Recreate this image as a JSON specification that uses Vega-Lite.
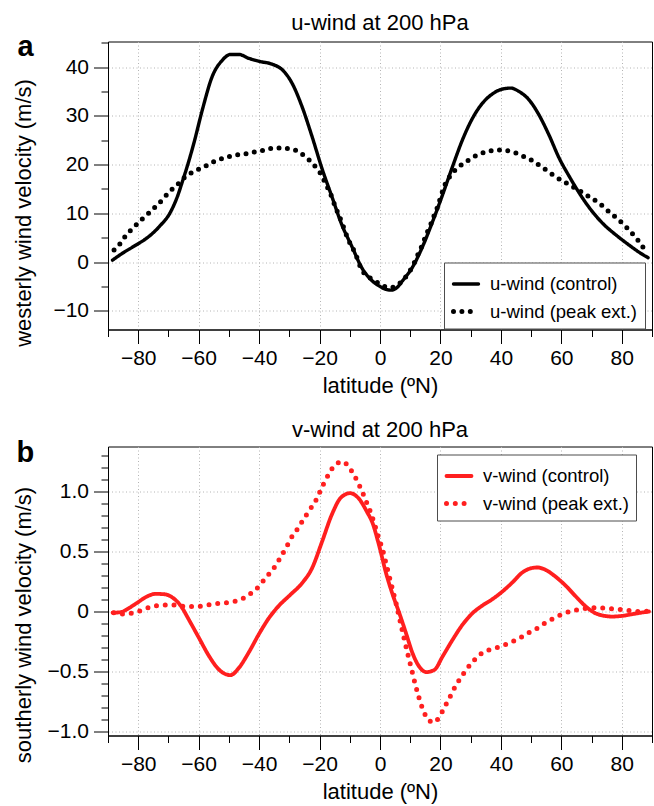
{
  "$schema": "https://vega.github.io/schema/vega-lite/v6.json",
  "padding": {"left": 11, "top": 11.5, "right": 0, "bottom": 0},
  "spacing": 20,
  "resolve": {
    "scale": {"strokeDash": "independent", "strokeWidth": "independent", "x": "independent", "y": "independent"},
    "legend": {"strokeDash": "independent", "strokeWidth": "independent"}
  },
  "config": {
    "font": "Liberation Sans",
    "view": {"stroke": "black", "strokeWidth": 1},
    "axis": {
      "domainColor": "black",
      "tickColor": "black",
      "tickWidth": 1,
      "labelColor": "black",
      "titleColor": "black",
      "labelFont": "Liberation Sans",
      "titleFont": "Liberation Sans",
      "labelFontSize": 21,
      "titleFontSize": 22,
      "titleFontWeight": "normal",
      "gridColor": "#b4b4b4",
      "gridDash": [1, 2.5],
      "gridWidth": 1,
      "labelFlush": false,
      "labelOverlap": false
    },
    "axisX": {"labelPadding": 4, "titlePadding": 7},
    "axisY": {"labelPadding": 5, "titlePadding": 11, "minExtent": 62, "maxExtent": 62},
    "legend": {
      "orient": "none",
      "title": null,
      "strokeColor": "#4d4d4d",
      "fillColor": "white",
      "padding": 7,
      "labelFont": "Liberation Sans",
      "labelFontSize": 18.5,
      "labelColor": "black",
      "symbolType": "stroke",
      "symbolSize": 625,
      "labelOffset": 9,
      "rowPadding": 3
    },
    "title": {"font": "Liberation Sans", "color": "black"}
  },
  "datasets": {
    "u": [
      {"latitude": -88.5, "value": 0.4, "series": "u-wind (control)"},
      {"latitude": -85, "value": 1.9, "series": "u-wind (control)"},
      {"latitude": -81, "value": 3.4, "series": "u-wind (control)"},
      {"latitude": -77, "value": 5.0, "series": "u-wind (control)"},
      {"latitude": -73, "value": 7.3, "series": "u-wind (control)"},
      {"latitude": -69.2, "value": 10.4, "series": "u-wind (control)"},
      {"latitude": -67, "value": 13.5, "series": "u-wind (control)"},
      {"latitude": -65.4, "value": 16.5, "series": "u-wind (control)"},
      {"latitude": -63.7, "value": 19.8, "series": "u-wind (control)"},
      {"latitude": -61.5, "value": 24.6, "series": "u-wind (control)"},
      {"latitude": -58.8, "value": 31.2, "series": "u-wind (control)"},
      {"latitude": -55.5, "value": 38.1, "series": "u-wind (control)"},
      {"latitude": -52.2, "value": 41.4, "series": "u-wind (control)"},
      {"latitude": -49.5, "value": 42.6, "series": "u-wind (control)"},
      {"latitude": -46.7, "value": 42.6, "series": "u-wind (control)"},
      {"latitude": -43.4, "value": 41.8, "series": "u-wind (control)"},
      {"latitude": -40.1, "value": 41.2, "series": "u-wind (control)"},
      {"latitude": -35.7, "value": 40.6, "series": "u-wind (control)"},
      {"latitude": -32.4, "value": 39.5, "series": "u-wind (control)"},
      {"latitude": -29.1, "value": 36.7, "series": "u-wind (control)"},
      {"latitude": -25.8, "value": 31.9, "series": "u-wind (control)"},
      {"latitude": -22.5, "value": 25.8, "series": "u-wind (control)"},
      {"latitude": -19.2, "value": 19.2, "series": "u-wind (control)"},
      {"latitude": -15.9, "value": 13.4, "series": "u-wind (control)"},
      {"latitude": -12.6, "value": 7.6, "series": "u-wind (control)"},
      {"latitude": -9.3, "value": 3.2, "series": "u-wind (control)"},
      {"latitude": -6, "value": -1.2, "series": "u-wind (control)"},
      {"latitude": -3, "value": -3.6, "series": "u-wind (control)"},
      {"latitude": 0, "value": -5.0, "series": "u-wind (control)"},
      {"latitude": 2, "value": -5.6, "series": "u-wind (control)"},
      {"latitude": 3.6, "value": -5.75, "series": "u-wind (control)"},
      {"latitude": 5.5, "value": -5.3, "series": "u-wind (control)"},
      {"latitude": 7.5, "value": -3.8, "series": "u-wind (control)"},
      {"latitude": 10.8, "value": -1.0, "series": "u-wind (control)"},
      {"latitude": 14.1, "value": 3.2, "series": "u-wind (control)"},
      {"latitude": 17.4, "value": 8.3, "series": "u-wind (control)"},
      {"latitude": 20.7, "value": 13.8, "series": "u-wind (control)"},
      {"latitude": 24.0, "value": 19.6, "series": "u-wind (control)"},
      {"latitude": 27.3, "value": 25.1, "series": "u-wind (control)"},
      {"latitude": 30.6, "value": 29.5, "series": "u-wind (control)"},
      {"latitude": 33.9, "value": 32.6, "series": "u-wind (control)"},
      {"latitude": 37.2, "value": 34.5, "series": "u-wind (control)"},
      {"latitude": 40.5, "value": 35.5, "series": "u-wind (control)"},
      {"latitude": 43.3, "value": 35.7, "series": "u-wind (control)"},
      {"latitude": 46.0, "value": 35.0, "series": "u-wind (control)"},
      {"latitude": 49.3, "value": 33.3, "series": "u-wind (control)"},
      {"latitude": 52.6, "value": 30.2, "series": "u-wind (control)"},
      {"latitude": 55.9, "value": 26.1, "series": "u-wind (control)"},
      {"latitude": 59.3, "value": 21.3, "series": "u-wind (control)"},
      {"latitude": 62.6, "value": 17.6, "series": "u-wind (control)"},
      {"latitude": 65.9, "value": 14.2, "series": "u-wind (control)"},
      {"latitude": 69.2, "value": 11.2, "series": "u-wind (control)"},
      {"latitude": 73.6, "value": 8.0, "series": "u-wind (control)"},
      {"latitude": 78, "value": 5.6, "series": "u-wind (control)"},
      {"latitude": 82.4, "value": 3.5, "series": "u-wind (control)"},
      {"latitude": 86, "value": 1.9, "series": "u-wind (control)"},
      {"latitude": 88.7, "value": 0.9, "series": "u-wind (control)"},
      {"latitude": -88, "value": 2.5, "series": "u-wind (peak ext.)"},
      {"latitude": -86, "value": 3.8, "series": "u-wind (peak ext.)"},
      {"latitude": -84.4, "value": 5.2, "series": "u-wind (peak ext.)"},
      {"latitude": -82.4, "value": 6.6, "series": "u-wind (peak ext.)"},
      {"latitude": -80.4, "value": 7.8, "series": "u-wind (peak ext.)"},
      {"latitude": -78.4, "value": 9.0, "series": "u-wind (peak ext.)"},
      {"latitude": -76.4, "value": 10.1, "series": "u-wind (peak ext.)"},
      {"latitude": -74.2, "value": 11.4, "series": "u-wind (peak ext.)"},
      {"latitude": -72.3, "value": 12.6, "series": "u-wind (peak ext.)"},
      {"latitude": -70.3, "value": 14.0, "series": "u-wind (peak ext.)"},
      {"latitude": -68.5, "value": 15.1, "series": "u-wind (peak ext.)"},
      {"latitude": -66.3, "value": 16.3, "series": "u-wind (peak ext.)"},
      {"latitude": -64.5, "value": 17.5, "series": "u-wind (peak ext.)"},
      {"latitude": -62.1, "value": 18.4, "series": "u-wind (peak ext.)"},
      {"latitude": -59.6, "value": 19.2, "series": "u-wind (peak ext.)"},
      {"latitude": -57, "value": 19.9, "series": "u-wind (peak ext.)"},
      {"latitude": -54.4, "value": 20.8, "series": "u-wind (peak ext.)"},
      {"latitude": -51.8, "value": 21.3, "series": "u-wind (peak ext.)"},
      {"latitude": -49.1, "value": 21.8, "series": "u-wind (peak ext.)"},
      {"latitude": -46.4, "value": 22.1, "series": "u-wind (peak ext.)"},
      {"latitude": -43.6, "value": 22.3, "series": "u-wind (peak ext.)"},
      {"latitude": -40.8, "value": 22.7, "series": "u-wind (peak ext.)"},
      {"latitude": -37.9, "value": 23.0, "series": "u-wind (peak ext.)"},
      {"latitude": -35.3, "value": 23.4, "series": "u-wind (peak ext.)"},
      {"latitude": -32.4, "value": 23.4, "series": "u-wind (peak ext.)"},
      {"latitude": -29.7, "value": 23.2, "series": "u-wind (peak ext.)"},
      {"latitude": -27.1, "value": 22.7, "series": "u-wind (peak ext.)"},
      {"latitude": -24.7, "value": 21.6, "series": "u-wind (peak ext.)"},
      {"latitude": -22.7, "value": 20.5, "series": "u-wind (peak ext.)"},
      {"latitude": -20.9, "value": 19.2, "series": "u-wind (peak ext.)"},
      {"latitude": -19.2, "value": 17.7, "series": "u-wind (peak ext.)"},
      {"latitude": -18.1, "value": 16.2, "series": "u-wind (peak ext.)"},
      {"latitude": -16.5, "value": 14.2, "series": "u-wind (peak ext.)"},
      {"latitude": -14.8, "value": 11.4, "series": "u-wind (peak ext.)"},
      {"latitude": -12.6, "value": 8.1, "series": "u-wind (peak ext.)"},
      {"latitude": -10.7, "value": 4.9, "series": "u-wind (peak ext.)"},
      {"latitude": -8.2, "value": 1.8, "series": "u-wind (peak ext.)"},
      {"latitude": -6, "value": -1.6, "series": "u-wind (peak ext.)"},
      {"latitude": -2.4, "value": -3.6, "series": "u-wind (peak ext.)"},
      {"latitude": -0.2, "value": -4.4, "series": "u-wind (peak ext.)"},
      {"latitude": 2, "value": -5.1, "series": "u-wind (peak ext.)"},
      {"latitude": 4, "value": -5.2, "series": "u-wind (peak ext.)"},
      {"latitude": 5.8, "value": -4.7, "series": "u-wind (peak ext.)"},
      {"latitude": 8, "value": -3.4, "series": "u-wind (peak ext.)"},
      {"latitude": 9.7, "value": -2.0, "series": "u-wind (peak ext.)"},
      {"latitude": 11, "value": -0.6, "series": "u-wind (peak ext.)"},
      {"latitude": 12.2, "value": 1.1, "series": "u-wind (peak ext.)"},
      {"latitude": 13.5, "value": 2.8, "series": "u-wind (peak ext.)"},
      {"latitude": 14.6, "value": 4.5, "series": "u-wind (peak ext.)"},
      {"latitude": 15.7, "value": 6.2, "series": "u-wind (peak ext.)"},
      {"latitude": 16.9, "value": 7.9, "series": "u-wind (peak ext.)"},
      {"latitude": 18, "value": 9.7, "series": "u-wind (peak ext.)"},
      {"latitude": 19.1, "value": 11.4, "series": "u-wind (peak ext.)"},
      {"latitude": 20.2, "value": 13.6, "series": "u-wind (peak ext.)"},
      {"latitude": 21.3, "value": 15.6, "series": "u-wind (peak ext.)"},
      {"latitude": 23.5, "value": 17.9, "series": "u-wind (peak ext.)"},
      {"latitude": 26.2, "value": 19.6, "series": "u-wind (peak ext.)"},
      {"latitude": 29, "value": 20.8, "series": "u-wind (peak ext.)"},
      {"latitude": 31.7, "value": 21.8, "series": "u-wind (peak ext.)"},
      {"latitude": 34.5, "value": 22.5, "series": "u-wind (peak ext.)"},
      {"latitude": 37.2, "value": 22.9, "series": "u-wind (peak ext.)"},
      {"latitude": 39.2, "value": 23.0, "series": "u-wind (peak ext.)"},
      {"latitude": 41.6, "value": 22.9, "series": "u-wind (peak ext.)"},
      {"latitude": 44.4, "value": 22.5, "series": "u-wind (peak ext.)"},
      {"latitude": 47.1, "value": 21.8, "series": "u-wind (peak ext.)"},
      {"latitude": 49.9, "value": 21.0, "series": "u-wind (peak ext.)"},
      {"latitude": 52.6, "value": 19.9, "series": "u-wind (peak ext.)"},
      {"latitude": 55.4, "value": 18.7, "series": "u-wind (peak ext.)"},
      {"latitude": 58.1, "value": 17.5, "series": "u-wind (peak ext.)"},
      {"latitude": 60.9, "value": 16.5, "series": "u-wind (peak ext.)"},
      {"latitude": 63.7, "value": 15.5, "series": "u-wind (peak ext.)"},
      {"latitude": 66.4, "value": 14.5, "series": "u-wind (peak ext.)"},
      {"latitude": 69.2, "value": 13.4, "series": "u-wind (peak ext.)"},
      {"latitude": 72.5, "value": 12.1, "series": "u-wind (peak ext.)"},
      {"latitude": 75.8, "value": 10.3, "series": "u-wind (peak ext.)"},
      {"latitude": 79.1, "value": 8.6, "series": "u-wind (peak ext.)"},
      {"latitude": 82.4, "value": 6.6, "series": "u-wind (peak ext.)"},
      {"latitude": 85.7, "value": 4.2, "series": "u-wind (peak ext.)"},
      {"latitude": 88.4, "value": 1.8, "series": "u-wind (peak ext.)"}
    ],
    "v": [
      {"latitude": -88.5, "value": -0.01, "series": "v-wind (control)"},
      {"latitude": -85.7, "value": -0.005, "series": "v-wind (control)"},
      {"latitude": -83, "value": 0.03, "series": "v-wind (control)"},
      {"latitude": -80.2, "value": 0.075, "series": "v-wind (control)"},
      {"latitude": -77.5, "value": 0.12, "series": "v-wind (control)"},
      {"latitude": -74.2, "value": 0.147, "series": "v-wind (control)"},
      {"latitude": -71.4, "value": 0.144, "series": "v-wind (control)"},
      {"latitude": -68.7, "value": 0.117, "series": "v-wind (control)"},
      {"latitude": -65.9, "value": 0.047, "series": "v-wind (control)"},
      {"latitude": -63.2, "value": -0.07, "series": "v-wind (control)"},
      {"latitude": -59.9, "value": -0.22, "series": "v-wind (control)"},
      {"latitude": -56.6, "value": -0.37, "series": "v-wind (control)"},
      {"latitude": -53.8, "value": -0.47, "series": "v-wind (control)"},
      {"latitude": -52, "value": -0.51, "series": "v-wind (control)"},
      {"latitude": -49.5, "value": -0.53, "series": "v-wind (control)"},
      {"latitude": -46.7, "value": -0.47, "series": "v-wind (control)"},
      {"latitude": -43.4, "value": -0.34, "series": "v-wind (control)"},
      {"latitude": -40.1, "value": -0.19, "series": "v-wind (control)"},
      {"latitude": -36.8, "value": -0.056, "series": "v-wind (control)"},
      {"latitude": -33.5, "value": 0.047, "series": "v-wind (control)"},
      {"latitude": -29.7, "value": 0.139, "series": "v-wind (control)"},
      {"latitude": -25.8, "value": 0.236, "series": "v-wind (control)"},
      {"latitude": -22.5, "value": 0.36, "series": "v-wind (control)"},
      {"latitude": -19.2, "value": 0.58, "series": "v-wind (control)"},
      {"latitude": -15.9, "value": 0.81, "series": "v-wind (control)"},
      {"latitude": -12.9, "value": 0.95, "series": "v-wind (control)"},
      {"latitude": -9.9, "value": 0.986, "series": "v-wind (control)"},
      {"latitude": -7.1, "value": 0.944, "series": "v-wind (control)"},
      {"latitude": -4.3, "value": 0.83, "series": "v-wind (control)"},
      {"latitude": -2.5, "value": 0.74, "series": "v-wind (control)"},
      {"latitude": -0.4, "value": 0.56, "series": "v-wind (control)"},
      {"latitude": 2.0, "value": 0.32, "series": "v-wind (control)"},
      {"latitude": 4.2, "value": 0.14, "series": "v-wind (control)"},
      {"latitude": 6.4, "value": -0.014, "series": "v-wind (control)"},
      {"latitude": 8.6, "value": -0.18, "series": "v-wind (control)"},
      {"latitude": 10.8, "value": -0.35, "series": "v-wind (control)"},
      {"latitude": 13, "value": -0.46, "series": "v-wind (control)"},
      {"latitude": 15.4, "value": -0.505, "series": "v-wind (control)"},
      {"latitude": 18, "value": -0.486, "series": "v-wind (control)"},
      {"latitude": 20.7, "value": -0.375, "series": "v-wind (control)"},
      {"latitude": 24, "value": -0.236, "series": "v-wind (control)"},
      {"latitude": 27.3, "value": -0.11, "series": "v-wind (control)"},
      {"latitude": 30.6, "value": -0.014, "series": "v-wind (control)"},
      {"latitude": 33.9, "value": 0.05, "series": "v-wind (control)"},
      {"latitude": 37.2, "value": 0.103, "series": "v-wind (control)"},
      {"latitude": 40.5, "value": 0.167, "series": "v-wind (control)"},
      {"latitude": 43.8, "value": 0.242, "series": "v-wind (control)"},
      {"latitude": 47.1, "value": 0.325, "series": "v-wind (control)"},
      {"latitude": 49.9, "value": 0.36, "series": "v-wind (control)"},
      {"latitude": 52.1, "value": 0.367, "series": "v-wind (control)"},
      {"latitude": 54.8, "value": 0.347, "series": "v-wind (control)"},
      {"latitude": 58.1, "value": 0.29, "series": "v-wind (control)"},
      {"latitude": 61.5, "value": 0.214, "series": "v-wind (control)"},
      {"latitude": 64.8, "value": 0.125, "series": "v-wind (control)"},
      {"latitude": 68.1, "value": 0.042, "series": "v-wind (control)"},
      {"latitude": 70.8, "value": -0.008, "series": "v-wind (control)"},
      {"latitude": 73.6, "value": -0.033, "series": "v-wind (control)"},
      {"latitude": 76.9, "value": -0.042, "series": "v-wind (control)"},
      {"latitude": 80.2, "value": -0.036, "series": "v-wind (control)"},
      {"latitude": 83.5, "value": -0.022, "series": "v-wind (control)"},
      {"latitude": 86.8, "value": -0.008, "series": "v-wind (control)"},
      {"latitude": 89, "value": 0.0, "series": "v-wind (control)"},
      {"latitude": -88.1, "value": -0.01, "series": "v-wind (peak ext.)"},
      {"latitude": -85.4, "value": -0.02, "series": "v-wind (peak ext.)"},
      {"latitude": -82.4, "value": -0.014, "series": "v-wind (peak ext.)"},
      {"latitude": -79.9, "value": 0.0, "series": "v-wind (peak ext.)"},
      {"latitude": -77.1, "value": 0.028, "series": "v-wind (peak ext.)"},
      {"latitude": -74.5, "value": 0.047, "series": "v-wind (peak ext.)"},
      {"latitude": -71.8, "value": 0.053, "series": "v-wind (peak ext.)"},
      {"latitude": -68.9, "value": 0.056, "series": "v-wind (peak ext.)"},
      {"latitude": -66.2, "value": 0.047, "series": "v-wind (peak ext.)"},
      {"latitude": -63.4, "value": 0.042, "series": "v-wind (peak ext.)"},
      {"latitude": -60.4, "value": 0.042, "series": "v-wind (peak ext.)"},
      {"latitude": -57.7, "value": 0.05, "series": "v-wind (peak ext.)"},
      {"latitude": -54.9, "value": 0.064, "series": "v-wind (peak ext.)"},
      {"latitude": -52.2, "value": 0.07, "series": "v-wind (peak ext.)"},
      {"latitude": -49.5, "value": 0.078, "series": "v-wind (peak ext.)"},
      {"latitude": -46.7, "value": 0.094, "series": "v-wind (peak ext.)"},
      {"latitude": -44.2, "value": 0.125, "series": "v-wind (peak ext.)"},
      {"latitude": -42, "value": 0.167, "series": "v-wind (peak ext.)"},
      {"latitude": -39.9, "value": 0.214, "series": "v-wind (peak ext.)"},
      {"latitude": -38.2, "value": 0.27, "series": "v-wind (peak ext.)"},
      {"latitude": -36.3, "value": 0.325, "series": "v-wind (peak ext.)"},
      {"latitude": -34.6, "value": 0.38, "series": "v-wind (peak ext.)"},
      {"latitude": -33.2, "value": 0.44, "series": "v-wind (peak ext.)"},
      {"latitude": -31.8, "value": 0.5, "series": "v-wind (peak ext.)"},
      {"latitude": -30.4, "value": 0.564, "series": "v-wind (peak ext.)"},
      {"latitude": -29.1, "value": 0.625, "series": "v-wind (peak ext.)"},
      {"latitude": -27.5, "value": 0.68, "series": "v-wind (peak ext.)"},
      {"latitude": -26, "value": 0.74, "series": "v-wind (peak ext.)"},
      {"latitude": -24.5, "value": 0.8, "series": "v-wind (peak ext.)"},
      {"latitude": -22.9, "value": 0.86, "series": "v-wind (peak ext.)"},
      {"latitude": -21.4, "value": 0.917, "series": "v-wind (peak ext.)"},
      {"latitude": -20.1, "value": 0.986, "series": "v-wind (peak ext.)"},
      {"latitude": -19, "value": 1.047, "series": "v-wind (peak ext.)"},
      {"latitude": -17.7, "value": 1.11, "series": "v-wind (peak ext.)"},
      {"latitude": -16.3, "value": 1.175, "series": "v-wind (peak ext.)"},
      {"latitude": -14.6, "value": 1.225, "series": "v-wind (peak ext.)"},
      {"latitude": -12.6, "value": 1.25, "series": "v-wind (peak ext.)"},
      {"latitude": -10.4, "value": 1.21, "series": "v-wind (peak ext.)"},
      {"latitude": -8.8, "value": 1.144, "series": "v-wind (peak ext.)"},
      {"latitude": -7.4, "value": 1.083, "series": "v-wind (peak ext.)"},
      {"latitude": -6.3, "value": 1.02, "series": "v-wind (peak ext.)"},
      {"latitude": -5.2, "value": 0.958, "series": "v-wind (peak ext.)"},
      {"latitude": -4.2, "value": 0.894, "series": "v-wind (peak ext.)"},
      {"latitude": -3.2, "value": 0.833, "series": "v-wind (peak ext.)"},
      {"latitude": -2.2, "value": 0.758, "series": "v-wind (peak ext.)"},
      {"latitude": -1.3, "value": 0.686, "series": "v-wind (peak ext.)"},
      {"latitude": -0.4, "value": 0.61, "series": "v-wind (peak ext.)"},
      {"latitude": 0.9, "value": 0.51, "series": "v-wind (peak ext.)"},
      {"latitude": 2.0, "value": 0.40, "series": "v-wind (peak ext.)"},
      {"latitude": 3.1, "value": 0.29, "series": "v-wind (peak ext.)"},
      {"latitude": 4.2, "value": 0.18, "series": "v-wind (peak ext.)"},
      {"latitude": 5.3, "value": 0.07, "series": "v-wind (peak ext.)"},
      {"latitude": 6.2, "value": -0.028, "series": "v-wind (peak ext.)"},
      {"latitude": 7.3, "value": -0.15, "series": "v-wind (peak ext.)"},
      {"latitude": 8.3, "value": -0.26, "series": "v-wind (peak ext.)"},
      {"latitude": 9.4, "value": -0.375, "series": "v-wind (peak ext.)"},
      {"latitude": 10.5, "value": -0.486, "series": "v-wind (peak ext.)"},
      {"latitude": 11.6, "value": -0.6, "series": "v-wind (peak ext.)"},
      {"latitude": 12.8, "value": -0.71, "series": "v-wind (peak ext.)"},
      {"latitude": 14.1, "value": -0.81, "series": "v-wind (peak ext.)"},
      {"latitude": 15.4, "value": -0.88, "series": "v-wind (peak ext.)"},
      {"latitude": 17.7, "value": -0.925, "series": "v-wind (peak ext.)"},
      {"latitude": 19.6, "value": -0.88, "series": "v-wind (peak ext.)"},
      {"latitude": 21.3, "value": -0.8, "series": "v-wind (peak ext.)"},
      {"latitude": 23, "value": -0.72, "series": "v-wind (peak ext.)"},
      {"latitude": 25, "value": -0.62, "series": "v-wind (peak ext.)"},
      {"latitude": 27, "value": -0.54, "series": "v-wind (peak ext.)"},
      {"latitude": 29, "value": -0.47, "series": "v-wind (peak ext.)"},
      {"latitude": 31, "value": -0.41, "series": "v-wind (peak ext.)"},
      {"latitude": 33, "value": -0.36, "series": "v-wind (peak ext.)"},
      {"latitude": 36, "value": -0.32, "series": "v-wind (peak ext.)"},
      {"latitude": 40, "value": -0.29, "series": "v-wind (peak ext.)"},
      {"latitude": 43, "value": -0.26, "series": "v-wind (peak ext.)"},
      {"latitude": 46, "value": -0.225, "series": "v-wind (peak ext.)"},
      {"latitude": 49, "value": -0.18, "series": "v-wind (peak ext.)"},
      {"latitude": 52, "value": -0.14, "series": "v-wind (peak ext.)"},
      {"latitude": 55, "value": -0.09, "series": "v-wind (peak ext.)"},
      {"latitude": 58, "value": -0.05, "series": "v-wind (peak ext.)"},
      {"latitude": 61, "value": -0.015, "series": "v-wind (peak ext.)"},
      {"latitude": 63.7, "value": 0.006, "series": "v-wind (peak ext.)"},
      {"latitude": 66.4, "value": 0.019, "series": "v-wind (peak ext.)"},
      {"latitude": 69.2, "value": 0.028, "series": "v-wind (peak ext.)"},
      {"latitude": 71.9, "value": 0.033, "series": "v-wind (peak ext.)"},
      {"latitude": 74.7, "value": 0.028, "series": "v-wind (peak ext.)"},
      {"latitude": 77.4, "value": 0.022, "series": "v-wind (peak ext.)"},
      {"latitude": 80.2, "value": 0.014, "series": "v-wind (peak ext.)"},
      {"latitude": 82.9, "value": 0.008, "series": "v-wind (peak ext.)"},
      {"latitude": 85.7, "value": 0.0, "series": "v-wind (peak ext.)"},
      {"latitude": 88.8, "value": 0.003, "series": "v-wind (peak ext.)"}
    ]
  },
  "vconcat": [
    {
      "title": {"text": "u-wind at 200 hPa", "anchor": "middle", "frame": "group", "fontSize": 22, "fontWeight": "normal", "baseline": "alphabetic", "offset": 0, "dy": 20.5},
      "width": 544,
      "height": 288,
      "data": {"name": "u"},
      "encoding": {
        "x": {
          "field": "latitude", "type": "quantitative",
          "scale": {"domain": [-90, 90], "nice": false, "zero": false},
          "axis": {
            "title": "latitude (ºN)",
            "values": [-90, -80, -70, -60, -50, -40, -30, -20, -10, 0, 10, 20, 30, 40, 50, 60, 70, 80, 90],
            "labelExpr": "datum.value % 20 === 0 && abs(datum.value) < 90 ? datum.label : ''",
            "tickSize": {"condition": {"test": "datum.value % 20 === 0", "value": 14}, "value": 7},
            "gridOpacity": {"condition": {"test": "datum.value % 20 === 0 && abs(datum.value) < 90", "value": 1}, "value": 0}
          }
        },
        "y": {
          "field": "value", "type": "quantitative",
          "scale": {"domain": [-13.83, 45.26], "nice": false, "zero": false},
          "axis": {
            "title": "westerly wind velocity (m/s)",
            "titleY": 171,
            "values": [-10, -5, 0, 5, 10, 15, 20, 25, 30, 35, 40, 45],
            "labelExpr": "datum.value % 10 === 0 ? datum.label : ''",
            "tickSize": {"condition": {"test": "datum.value % 10 === 0", "value": 14.5}, "value": 7},
            "gridOpacity": {"condition": {"test": "datum.value % 10 === 0", "value": 1}, "value": 0}
          }
        },
        "strokeDash": {
          "field": "series", "type": "nominal",
          "scale": {"domain": ["u-wind (control)", "u-wind (peak ext.)"], "range": [[1, 0], [0, 8.4]]},
          "legend": {"legendX": 336, "legendY": 221, "encoding": {"symbols": {"strokeCap": {"value": "round"}}}}
        },
        "strokeWidth": {
          "field": "series", "type": "nominal",
          "scale": {"domain": ["u-wind (control)", "u-wind (peak ext.)"], "range": [3.4, 5]},
          "legend": {"legendX": 336, "legendY": 221, "encoding": {"symbols": {"strokeCap": {"value": "round"}}}}
        }
      },
      "layer": [
        {
          "transform": [{"filter": "datum.series === 'u-wind (control)'"}],
          "mark": {"type": "line", "interpolate": "monotone", "color": "black", "strokeCap": "round", "strokeJoin": "round"}
        },
        {
          "transform": [{"filter": "datum.series === 'u-wind (peak ext.)'"}],
          "mark": {"type": "line", "interpolate": "monotone", "color": "black", "strokeCap": "round", "strokeJoin": "round"},
          "encoding": {
            "x": {
              "field": "latitude", "type": "quantitative",
              "axis": {
                "orient": "top", "title": "a", "grid": false, "ticks": false, "labels": false, "domain": false,
                "titleFontSize": 29, "titleFontWeight": "bold", "titleAngle": 0, "titleAlign": "left",
                "titleBaseline": "alphabetic", "titleX": -91, "titleY": 14.3
              }
            }
          }
        }
      ],
      "resolve": {"axis": {"x": "independent"}}
    },
    {
      "title": {"text": "v-wind at 200 hPa", "anchor": "middle", "frame": "group", "fontSize": 22, "fontWeight": "normal", "baseline": "alphabetic", "offset": 0, "dy": 20},
      "width": 544,
      "height": 289,
      "data": {"name": "v"},
      "encoding": {
        "x": {
          "field": "latitude", "type": "quantitative",
          "scale": {"domain": [-90, 90], "nice": false, "zero": false},
          "axis": {
            "title": "latitude (ºN)",
            "values": [-90, -80, -70, -60, -50, -40, -30, -20, -10, 0, 10, 20, 30, 40, 50, 60, 70, 80, 90],
            "labelExpr": "datum.value % 20 === 0 && abs(datum.value) < 90 ? datum.label : ''",
            "tickSize": {"condition": {"test": "datum.value % 20 === 0", "value": 14}, "value": 7},
            "gridOpacity": {"condition": {"test": "datum.value % 20 === 0 && abs(datum.value) < 90", "value": 1}, "value": 0}
          }
        },
        "y": {
          "field": "value", "type": "quantitative",
          "scale": {"domain": [-1.033, 1.375], "nice": false, "zero": false},
          "axis": {
            "title": "southerly wind velocity (m/s)",
            "titleY": 178,
            "values": [-1, -0.9, -0.8, -0.7, -0.6, -0.5, -0.4, -0.3, -0.2, -0.1, 0, 0.1, 0.2, 0.3, 0.4, 0.5, 0.6, 0.7, 0.8, 0.9, 1, 1.1, 1.2, 1.3],
            "labelExpr": "abs(datum.value * 2 - round(datum.value * 2)) < 0.001 ? (abs(datum.value) < 0.001 ? '0' : format(datum.value, '.1f')) : ''",
            "tickSize": {"condition": {"test": "abs(datum.value * 2 - round(datum.value * 2)) < 0.001", "value": 14.5}, "value": 7},
            "gridOpacity": {"condition": {"test": "abs(datum.value * 2 - round(datum.value * 2)) < 0.001", "value": 1}, "value": 0}
          }
        },
        "strokeDash": {
          "field": "series", "type": "nominal",
          "scale": {"domain": ["v-wind (control)", "v-wind (peak ext.)"], "range": [[1, 0], [0, 8.8]]},
          "legend": {"legendX": 329, "legendY": 8, "encoding": {"symbols": {"strokeCap": {"value": "round"}}}}
        },
        "strokeWidth": {
          "field": "series", "type": "nominal",
          "scale": {"domain": ["v-wind (control)", "v-wind (peak ext.)"], "range": [3.8, 5]},
          "legend": {"legendX": 329, "legendY": 8, "encoding": {"symbols": {"strokeCap": {"value": "round"}}}}
        }
      },
      "layer": [
        {
          "transform": [{"filter": "datum.series === 'v-wind (control)'"}],
          "mark": {"type": "line", "interpolate": "monotone", "color": "#ff1f1f", "strokeCap": "round", "strokeJoin": "round"}
        },
        {
          "transform": [{"filter": "datum.series === 'v-wind (peak ext.)'"}],
          "mark": {"type": "line", "interpolate": "monotone", "color": "#ff1f1f", "strokeCap": "round", "strokeJoin": "round"},
          "encoding": {
            "x": {
              "field": "latitude", "type": "quantitative",
              "axis": {
                "orient": "top", "title": "b", "grid": false, "ticks": false, "labels": false, "domain": false,
                "titleFontSize": 29, "titleFontWeight": "bold", "titleAngle": 0, "titleAlign": "left",
                "titleBaseline": "alphabetic", "titleX": -92, "titleY": 15
              }
            }
          }
        }
      ],
      "resolve": {"axis": {"x": "independent"}}
    }
  ]
}
